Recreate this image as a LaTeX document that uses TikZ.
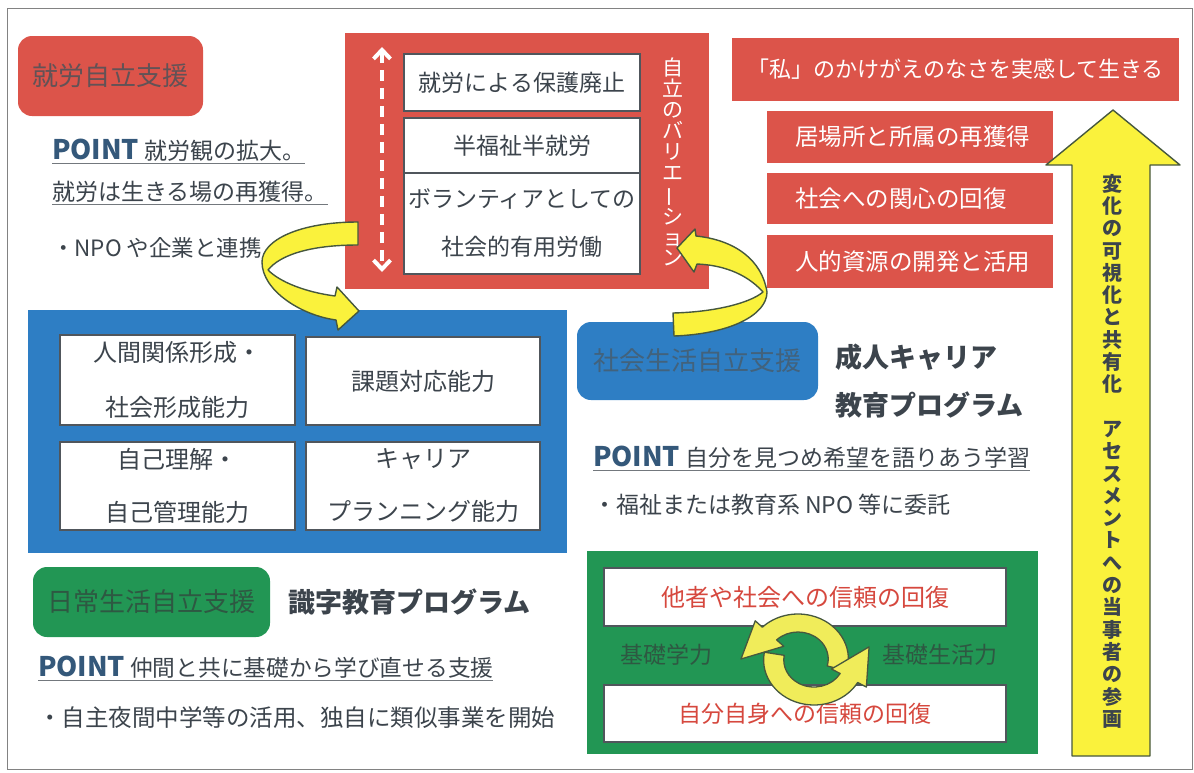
\documentclass[tikz,border=0pt]{standalone}
\usepackage{fontspec}
\setmainfont{Noto Sans CJK JP}
\usetikzlibrary{arrows.meta,calc}
\definecolor{cred}{RGB}{220,84,74}
\definecolor{cblue}{RGB}{46,126,196}
\definecolor{cgreen}{RGB}{34,150,84}
\definecolor{cyel}{RGB}{250,242,60}
\definecolor{cyel2}{RGB}{240,236,90}
\definecolor{ctext}{RGB}{60,68,76}
\definecolor{cpoint}{RGB}{52,88,122}
\definecolor{cedge}{RGB}{80,86,92}
\definecolor{caredge}{RGB}{70,88,62}
\definecolor{credlab}{RGB}{98,82,86}
\definecolor{cbluelab}{RGB}{66,98,124}
\definecolor{cgreenlab}{RGB}{46,88,66}
\definecolor{credtxt}{RGB}{214,72,62}
\definecolor{cborder}{RGB}{130,130,130}
\newcommand{\myfs}[2]{\fontsize{#1}{#2}\selectfont}
\newcommand{\pointw}{{\fontsize{27}{30}\selectfont\bfseries\color{cpoint}POINT}}
\begin{document}
\begin{tikzpicture}[x=1pt,y=-1pt,
  every node/.style={inner sep=0pt,outer sep=0pt},
  lab/.style={rounded corners=14pt,font=\myfs{26}{30}},
  wbox/.style={draw=cedge,line width=1.3pt,fill=white,align=center,text=ctext},
  rbox/.style={fill=cred,text=white,font=\myfs{23.5}{27}},
  ptext/.style={anchor=west,text=ctext,font=\myfs{23}{27}},
  uline/.style={draw=cedge!80,line width=1pt},
  yarrow/.style={fill=cyel,draw=caredge,line width=1.4pt,line join=round},
  carrow/.style={fill=cyel2,draw=caredge,line width=1.3pt,line join=round},
  vtext/.style={anchor=north,align=center}]
\useasboundingbox (0,0) rectangle (1194,772);
\draw[cborder,line width=1pt] (7,8) rectangle (1192,769);

% ---------- top left ----------
\node[lab,fill=cred,text=credlab,minimum width=185pt,minimum height=80pt] (lab1) at (110.5,76) {就労自立支援};
\node[ptext] (p1) at (52,150) {\pointw\ 就労観の拡大。};
\draw[uline] ([yshift=-2pt]p1.south west) -- ([yshift=-2pt]p1.south east);
\node[ptext] (p2) at (52,192) {就労は生きる場の再獲得。};
\draw[uline] ([yshift=-2pt]p2.south west) -- ([yshift=-2pt]p2.south east);
\node[ptext,font=\myfs{22.5}{27}] (p3) at (52,248) {・NPO や企業と連携};

% ---------- big red box ----------
\node[fill=cred,minimum width=364pt,minimum height=256pt] (bigred) at (527,161) {};
\node[wbox,minimum width=236pt,minimum height=57pt,font=\myfs{23}{27}] (w1) at (522,82.5) {就労による保護廃止};
\node[wbox,minimum width=236pt,minimum height=55pt,font=\myfs{23}{27}] (w2) at (522,145.5) {半福祉半就労};
\node[wbox,minimum width=236pt,minimum height=101pt,font=\myfs{23}{48}] (w3) at (522,223.5) {ボランティアとしての\\社会的有用労働};
\coordinate (da1) at (382,47);
\coordinate (da2) at (382,272);
\draw[white,line width=4pt,dash pattern=on 11pt off 7pt,{Straight Barb[length=9pt,width=17pt]}-{Straight Barb[length=9pt,width=17pt]}] (da1) -- (da2);
\node[vtext,text=white,font=\myfs{21}{20.9}] (vt1) at (673,58) {自\\立\\の\\バ\\リ\\エ\\\rotatebox[origin=c]{90}{ー}\\シ\\ョ\\ン};

% ---------- right red boxes ----------
\node[rbox,minimum width=447pt,minimum height=63pt,font=\myfs{22}{26}] (r0) at (955.5,69.5) {「私」のかけがえのなさを実感して生きる};
\node[rbox,text width=230pt,inner xsep=28pt,minimum height=52pt,align=left] (r1) at (910,137) {居場所と所属の再獲得};
\node[rbox,text width=230pt,inner xsep=28pt,minimum height=51pt,align=left] (r2) at (910,198.5) {社会への関心の回復};
\node[rbox,text width=230pt,inner xsep=28pt,minimum height=53pt,align=left] (r3) at (910,261.5) {人的資源の開発と活用};

% ---------- yellow up arrow ----------
\path[yarrow] (1072,756) -- (1072,165) -- (1046,165) -- (1113,110) -- (1180,165) -- (1150,165) -- (1150,756) -- cycle;
\node[vtext,text=ctext,font=\myfs{20}{22.3}\bfseries] (vt2) at (1112,174) {変\\化\\の\\可\\視\\化\\と\\共\\有\\化\\\phantom{あ}\\ア\\セ\\ス\\メ\\ン\\ト\\へ\\の\\当\\事\\者\\の\\参\\画};

% ---------- blue box ----------
\node[fill=cblue,minimum width=539pt,minimum height=243pt] (blue) at (297.5,431.5) {};
\node[wbox,minimum width=235pt,minimum height=90pt,font=\myfs{24}{55}] (b1) at (177.5,380) {人間関係形成・\\社会形成能力};
\node[wbox,minimum width=234pt,minimum height=88pt,font=\myfs{24}{55}] (b2) at (423,381) {課題対応能力};
\node[wbox,minimum width=235pt,minimum height=88pt,font=\myfs{24}{53}] (b3) at (177.5,486) {自己理解・\\自己管理能力};
\node[wbox,minimum width=234pt,minimum height=88pt,font=\myfs{24}{53}] (b4) at (423,486) {キャリア\\プランニング能力};

% ---------- social life label ----------
\node[lab,fill=cblue,text=cbluelab,minimum width=241pt,minimum height=78pt] (lab2) at (697.5,361) {社会生活自立支援};

% ---------- curved arrows ----------
\path[yarrow] (358,222) .. controls (300,222) and (262,240) .. (262,262)
  .. controls (262,290) and (300,315) .. (336,320) -- (338,330) -- (359,311) -- (337,287) -- (335,296)
  .. controls (305,292) and (280,282) .. (268,270)
  .. controls (280,255) and (310,245) .. (358,245) -- cycle;
\path[yarrow] (677,248) -- (695,229) -- (696,236) .. controls (735,240) and (762,260) .. (767,292)
  .. controls (767,315) and (730,334) .. (674,336) -- (673,313)
  .. controls (715,312) and (750,303) .. (763,292)
  .. controls (745,272) and (720,265) .. (697,264) -- (694,272) -- cycle;

\node[anchor=west,align=left,text=ctext,font=\myfs{27}{48}\bfseries] (t2) at (835,381) {成人キャリア\\教育プログラム};
\node[ptext] (p4) at (593,457) {\pointw\ 自分を見つめ希望を語りあう学習};
\draw[uline] ([yshift=-2pt]p4.south west) -- ([yshift=-2pt]p4.south east);
\node[ptext] (p5) at (593,505) {・福祉または教育系 NPO 等に委託};

% ---------- daily life label ----------
\node[lab,fill=cgreen,text=cgreenlab,minimum width=237pt,minimum height=70pt] (lab3) at (151.5,602) {日常生活自立支援};
\node[anchor=west,text=ctext,font=\myfs{27}{30}\bfseries] (t3) at (288,602) {識字教育プログラム};
\node[ptext,font=\myfs{22.7}{27}] (p6) at (38,667) {\pointw\ 仲間と共に基礎から学び直せる支援};
\draw[uline] ([yshift=-2pt]p6.south west) -- ([yshift=-2pt]p6.south east);
\node[ptext,font=\myfs{23.5}{27}] (p7) at (38,718) {・自主夜間中学等の活用、独自に類似事業を開始};

% ---------- green box ----------
\node[fill=cgreen,minimum width=451pt,minimum height=203pt] (green) at (812.5,652.5) {};
\node[wbox,text=credtxt,minimum width=402pt,minimum height=58pt,font=\myfs{24}{27}] (g1) at (805,597) {他者や社会への信頼の回復};
\node[wbox,text=credtxt,minimum width=402pt,minimum height=57pt,font=\myfs{23}{27}] (g2) at (805,713.5) {自分自身への信頼の回復};
\node[text=cgreenlab,font=\myfs{23}{27}] (k1) at (666,655) {基礎学力};
\node[text=cgreenlab,font=\myfs{23}{27}] (k2) at (940,655) {基礎生活力};
\begin{scope}[shift={(798,659)},yscale=-1,xscale=1.12]
  \path[carrow] (-15:45) arc[start angle=-15,end angle=135,radius=45] -- (135:54)
    -- ($(135:36)+(225:36)$) -- (135:18) -- (135:27) arc[start angle=135,end angle=-15,radius=27] -- cycle;
\end{scope}
\begin{scope}[shift={(814,660)},yscale=-1,xscale=1.12]
  \path[carrow] (170:45) arc[start angle=170,end angle=330,radius=45] -- (330:54)
    -- ($(330:36)+(60:36)$) -- (330:18) -- (330:27) arc[start angle=330,end angle=170,radius=27] -- cycle;
\end{scope}
\end{tikzpicture}
\end{document}
